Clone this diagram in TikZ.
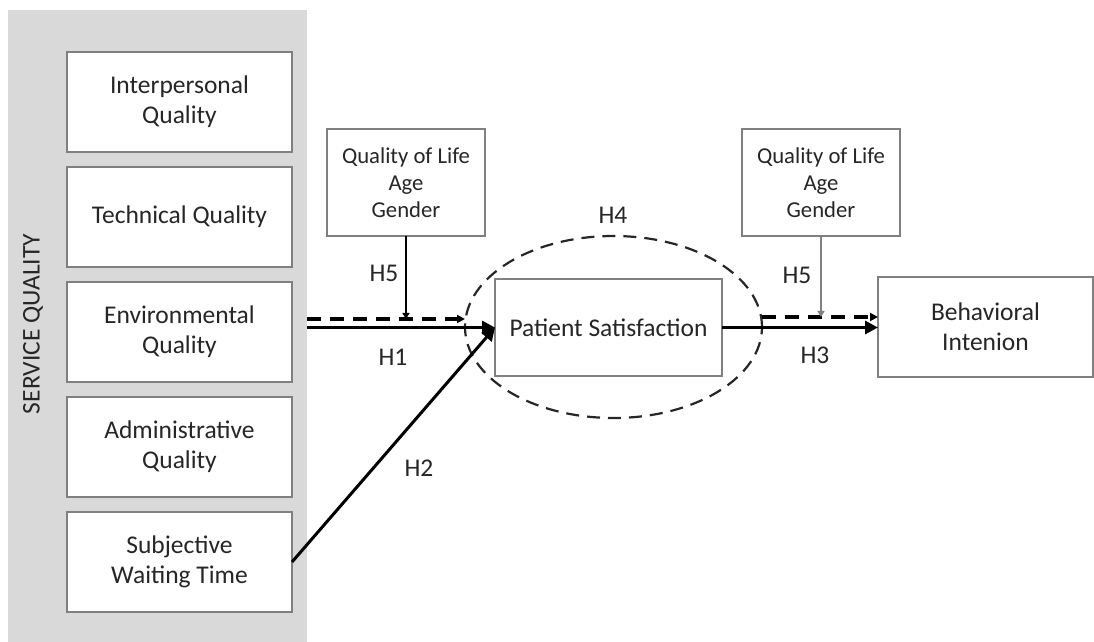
\documentclass[tikz,border=0pt]{standalone}
\usepackage{fontspec}
\setmainfont{Carlito}
\usetikzlibrary{arrows.meta,positioning,shapes.geometric}
\definecolor{panelgray}{HTML}{D9D9D9}
\definecolor{edge}{HTML}{808080}
\definecolor{ink}{HTML}{262626}

\begin{document}
\begin{tikzpicture}[x=0.5pt,y=-0.5pt, every node/.style={font=\fontsize{12.75}{15}\selectfont,align=center,text=ink,inner sep=0pt,outer sep=0pt}, box/.style={draw=edge,line width=0.6pt,fill=white,minimum width=112.5pt,minimum height=50pt}, modbox/.style={box,minimum width=79pt,minimum height=53.5pt,font=\fontsize{11.35}{13.5}\selectfont}, arr/.style={-{Triangle[length=6.5pt,width=6.5pt]},line width=1.5pt}, dasharr/.style={-{Triangle[length=4pt,width=4pt]},line width=1.5pt,dash pattern=on 7pt off 4.5pt}, modarr/.style={-{Triangle[length=3pt,width=3.5pt]},line width=0.75pt}]
\useasboundingbox (0,0) rectangle (1094,642);
% service quality panel
\node[fill=panelgray,minimum width=149.5pt,minimum height=316pt] (panel) at (157.5,326) {};
\node[rotate=90] (sq) at (33,324) {SERVICE QUALITY};
\node[box] (iq) at (179.5,102) {Interpersonal\\Quality};
\node[box,below=7.5pt of iq] (tq) {Technical Quality};
\node[box,below=7.5pt of tq] (eq) {Environmental\\Quality};
\node[box,below=7.5pt of eq] (aq) {Administrative\\Quality};
\node[box,below=7.5pt of aq] (wt) {Subjective\\Waiting Time};
% moderators
\node[modbox] (mq) at (406,182.5) {Quality of Life\\Age\\Gender};
\node[modbox] (mb) at (821,182.5) {Quality of Life\\Age\\Gender};
% mediator and outcome
\node[ellipse,draw=black!85,line width=1.1pt,dash pattern=on 6.5pt off 4pt,minimum width=148.5pt,minimum height=91pt] (hf) at (613.5,327) {};
\node[box,minimum width=113.5pt,minimum height=48.5pt] (ps) at (608.5,327.5) {Patient Satisfaction};
\node[box,minimum width=107.5pt] (bi) at (985.5,327) {Behavioral\\Intenion};
\coordinate (dl) at (0,319);
\coordinate (dr) at (0,317);
\draw[arr] (panel.east |- ps.west) -- (ps.west);
\draw[dasharr] (panel.east |- dl) -- (hf.west |- dl);
\draw[modarr] (mq.south) -- (mq.south |- dl);
\draw[arr] (wt.east) -- (ps.west);
\draw[arr] (ps.east) -- (bi.west |- ps.east);
\draw[dasharr] (hf.east |- dr) -- (bi.west |- dr);
\draw[modarr,edge] (mb.south) -- (mb.south |- dr);
% hypotheses
\node (h5a) at (384,273) {H5};
\node (h1) at (393,357) {H1};
\node (h2) at (419,468) {H2};
\node (h4) at (613,215) {H4};
\node (h5b) at (797,275) {H5};
\node (h3) at (815,355) {H3};
\end{tikzpicture}
\end{document}
